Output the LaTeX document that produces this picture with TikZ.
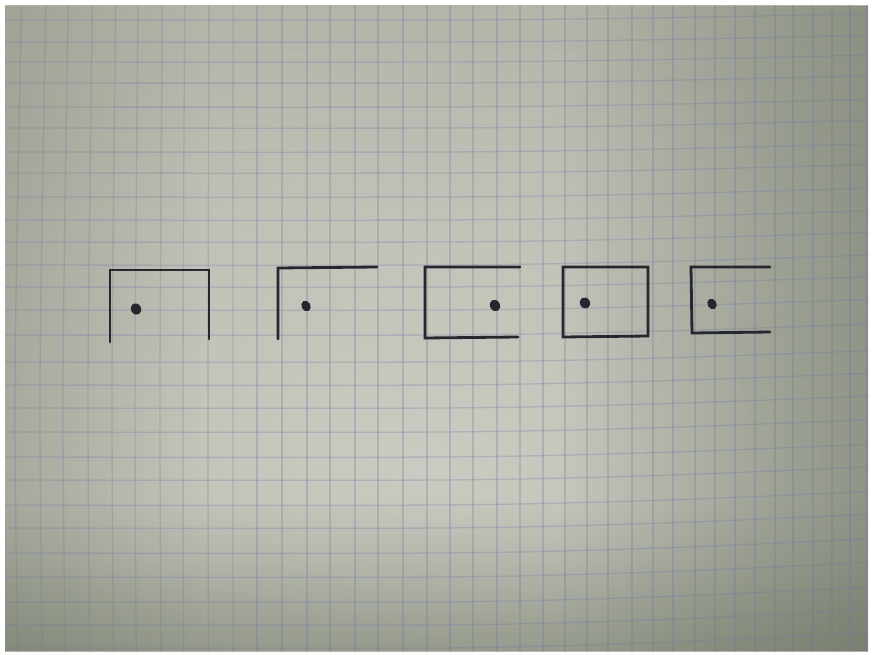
\documentclass[tikz,border=0pt]{standalone}
\usetikzlibrary{fadings}
\definecolor{pBot}{RGB}{118,126,106}
\definecolor{pLow}{RGB}{146,151,134}
\definecolor{pMid}{RGB}{184,185,174}
\definecolor{pMid2}{RGB}{186,187,176}
\definecolor{pUp}{RGB}{178,179,167}
\definecolor{pTop}{RGB}{166,168,154}
\definecolor{glowc}{RGB}{214,214,206}
\definecolor{darkc}{RGB}{98,108,90}
\definecolor{gridc}{RGB}{110,115,165}
\definecolor{inkc}{RGB}{38,38,46}
\pgfdeclareverticalshading{paperv}{100bp}{color(0bp)=(pBot); color(12bp)=(pLow); color(32bp)=(pMid); color(58bp)=(pMid2); color(82bp)=(pUp); color(100bp)=(pTop)}
\tikzfading[name=glowfade, inner color=transparent!0, outer color=transparent!100]
\tikzfading[name=fadeR, left color=transparent!100, right color=transparent!0]
\tikzfading[name=fadeL, left color=transparent!0, right color=transparent!100]
\tikzfading[name=fadeB, top color=transparent!100, bottom color=transparent!0]
\begin{document}
\begin{tikzpicture}[x=0.02cm,y=-0.02cm,
  ink/.style={draw=inkc, line width=1.6pt, line cap=round, line join=miter},
  gridln/.style={draw=gridc, line width=0.75pt, draw opacity=0.27},
  dotink/.style={fill=inkc}]
\useasboundingbox (0,0) rectangle (872,655);
\fill[white] (0,0) rectangle (872,655);
\begin{scope}
  \clip (5,6) rectangle (868,651);
  \shade[shading=paperv] (5,6) rectangle (868,651);
  \fill[glowc, path fading=glowfade, fill opacity=0.6] (430,460) ellipse [x radius=600, y radius=440];
  \fill[darkc, path fading=fadeR, fill opacity=0.5] (560,6) rectangle (868,651);
  \fill[darkc, path fading=fadeL, fill opacity=0.25] (5,6) rectangle (200,651);
  \fill[darkc, path fading=fadeB, fill opacity=0.4] (5,500) rectangle (868,651);
  % vertical grid lines
  \foreach \gx in {15,40,63,88,112,135,160,183,208,233,257,282,307,330,355,378,403,427,450,473,497,520,543,565,587,608,632,653,673,695,715,735,755,775,793,813,832,850,867} {
    \pgfmathsetmacro\dt{max(0,7*(1-\gx/240))}
    \pgfmathsetmacro\db{max(0,3*(1-\gx/240))}
    \draw[gridln] plot[smooth] coordinates {(\gx+\dt,0) (\gx,380) (\gx+\db,660)};
  }
  % horizontal grid lines
  \foreach \gy in {20,42,62,83,107,128,152,173,197,220,242,265,287,310,335,362,385,408,432,457,480,505,528,553,577,602,625,648} {
    \pgfmathsetmacro\o{-(6+0.015*\gy)}
    \draw[gridln] plot[smooth] coordinates {(0,\gy) (440,\gy) (660,\gy+0.35*\o) (872,\gy+\o)};
  }
\end{scope}
% shape 1
\draw[ink] (110,342) -- (110,270) -- (209,270) -- (209,339);
\fill[inkc, rotate around={30:(136,309)}] (136,309) ellipse [x radius=5, y radius=6];
% shape 2
\draw[ink] (278,339) -- (278,268) -- (377,267);
\fill[inkc, rotate around={30:(306,306)}] (306,306) ellipse [x radius=4.5, y radius=5.5];
% shape 3
\draw[ink] (520,267) -- (425,267) -- (425,338) -- (518,337);
\fill[inkc, rotate around={30:(495,305.5)}] (495,305.5) ellipse [x radius=5, y radius=6];
% shape 4
\draw[ink] (563,267) -- (648,267) -- (648,336) -- (563,337) -- cycle;
\fill[inkc, rotate around={30:(585,303)}] (585,303) ellipse [x radius=5, y radius=5.8];
% shape 5
\draw[ink] (770,267) -- (691,267) -- (692,333) -- (770,332);
\fill[inkc, rotate around={30:(712,304)}] (712,304) ellipse [x radius=4.5, y radius=5.5];
\end{tikzpicture}
\end{document}
